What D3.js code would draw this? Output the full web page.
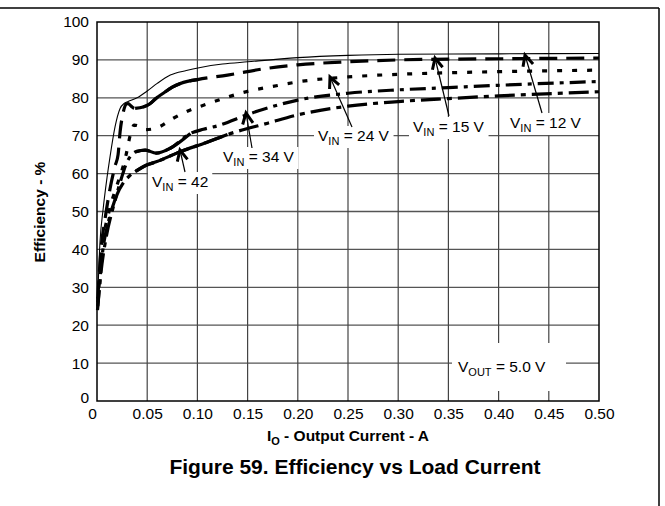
<!DOCTYPE html>
<html><head><meta charset="utf-8">
<script src="https://cdn.jsdelivr.net/npm/d3@7"></script>
<style>
html,body{margin:0;padding:0;background:#fff;}
svg{display:block;font-family:"Liberation Sans",Arial,sans-serif;}
</style></head>
<body>
<svg id="chart" width="665" height="506"></svg>
<script>
// ---- data ----
const xTickValues = [0,0.05,0.10,0.15,0.20,0.25,0.30,0.35,0.40,0.45,0.50];
const xTickLabels = ["0","0.05","0.10","0.15","0.20","0.25","0.30","0.35","0.40","0.45","0.50"];
const yTickValues = [0,10,20,30,40,50,60,70,80,90,100];
const seriesNames = ["12","15","24","34","42"];

const current12 = [0.0008,0.003,0.006,0.01,0.013,0.018,0.023,0.027,0.031,0.04,0.05,0.06,0.073,0.089,0.103,0.125,0.15,0.2,0.25,0.3,0.4,0.5];
const eff12     = [28,42,50.4,59,64.5,72.4,77.2,78.5,79,80,81.8,83.8,86,87.2,88,88.9,89.5,90.6,91.2,91.5,91.6,91.7];

const current15 = [0.0008,0.004,0.008,0.013,0.018,0.021,0.023,0.026,0.029,0.031,0.034,0.038,0.046,0.052,0.059,0.066,0.075,0.083,0.1,0.13,0.17,0.2,0.25,0.3,0.35,0.4,0.5];
const eff15     = [27,40,48,56,62,65,71,76,78.3,78.5,77.8,77.2,77.6,78.3,79.9,81.2,82.8,83.8,84.8,86,87.8,88.7,89.5,90,90.2,90.3,90.5];

const current24 = [0.0008,0.005,0.012,0.02,0.025,0.029,0.033,0.037,0.041,0.049,0.059,0.076,0.093,0.109,0.15,0.175,0.2,0.25,0.3,0.35,0.4,0.5];
const eff24     = [26,40,50,57,61,65,70,72.8,72.6,71.6,72,74.6,76.8,78.3,81.7,83,84.2,85.5,86.2,86.6,86.9,87.3];

const current34 = [0.0008,0.005,0.012,0.019,0.024,0.029,0.034,0.039,0.048,0.059,0.073,0.093,0.106,0.12,0.15,0.2,0.25,0.3,0.35,0.4,0.5];
const eff34     = [25,38,48,54,58.5,62.5,64.8,65.8,66.2,65.4,66.7,70.6,71.7,72.6,75.6,79.4,81.2,82.1,82.7,83.3,84.3];

const current42 = [0.0005,0.004,0.009,0.015,0.02,0.026,0.032,0.038,0.049,0.059,0.083,0.109,0.13,0.17,0.2,0.25,0.3,0.35,0.4,0.5];
const eff42     = [24,34,43,50,54.5,57.5,59.3,60.5,62.2,63.1,65.8,68.2,70.3,73.3,75.5,77.8,79,79.8,80.5,81.6];

// ---- layout ----
const svg = d3.select("#chart");
const L = 97, R = 599, T = 22, B = 401;
const x = d3.scaleLinear().domain([0,0.5]).range([L,R]);
const y = d3.scaleLinear().domain([0,100]).range([B,T]);
const FONT = "Liberation Sans, Arial, sans-serif";

// layers
const gridG = svg.append("g");
const boxG = svg.append("g");
const frameG = svg.append("g");
const curveG = svg.append("g");
const labG = svg.append("g");
const arrowG = svg.append("g");

// outer frame (top + right)
frameG.append("line").attr("x1",0).attr("x2",659).attr("y1",8).attr("y2",8).attr("stroke","#000").attr("stroke-width",1.5);
frameG.append("line").attr("x1",659).attr("x2",659).attr("y1",8).attr("y2",506).attr("stroke","#000").attr("stroke-width",1.5);

// grid
gridG.selectAll("line.h").data(yTickValues.slice(1,-1)).join("line")
  .attr("x1",L).attr("x2",R).attr("y1",d=>y(d)).attr("y2",d=>y(d))
  .attr("stroke","#555").attr("stroke-width",1.3);
gridG.selectAll("line.v").data(xTickValues.slice(1,-1)).join("line")
  .attr("x1",d=>x(d)).attr("x2",d=>x(d)).attr("y1",T).attr("y2",B)
  .attr("stroke","#444").attr("stroke-width",1.2);

function wbox(x0,y0,x1,y1){ boxG.append("rect").attr("x",x0).attr("y",y0).attr("width",x1-x0).attr("height",y1-y0).attr("fill","#fff"); }

// plot frame
frameG.append("rect").attr("x",L).attr("y",T).attr("width",R-L).attr("height",B-T)
  .attr("fill","none").attr("stroke","#000").attr("stroke-width",1.5);

// axes tick labels
const axX = d3.axisBottom(x).tickValues(xTickValues).tickFormat((d,i)=>xTickLabels[i]).tickSize(0).tickPadding(7);
const gx = svg.append("g").attr("transform",`translate(0,${B})`).call(axX);
gx.select(".domain").remove();
gx.selectAll("text").attr("font-size",15.5).attr("fill","#000").attr("font-family",FONT);
gx.selectAll("text").filter((d,i)=>i===0).attr("dx",-5);

const axY = d3.axisLeft(y).tickValues(yTickValues).tickFormat(d3.format("d")).tickSize(0).tickPadding(8);
const gy = svg.append("g").attr("transform",`translate(${L},0)`).call(axY);
gy.select(".domain").remove();
gy.selectAll("text").attr("font-size",15.5).attr("fill","#000").attr("font-family",FONT);
gy.selectAll("text").filter(d=>d===0).attr("dy","0.1em");

// axis titles
svg.append("text").attr("x",348).attr("y",441).attr("text-anchor","middle")
  .attr("font-size",15.5).attr("font-weight","bold")
  .call(t=>{ t.append("tspan").text("I"); t.append("tspan").attr("dy",4).attr("font-size",11).text("O"); t.append("tspan").attr("dy",-4).text(" - Output Current - A"); });
svg.append("text").attr("transform","translate(45,212) rotate(-90)").attr("text-anchor","middle")
  .attr("font-size",15.5).attr("font-weight","bold").text("Efficiency - %");
svg.append("text").attr("x",355).attr("y",474).attr("text-anchor","middle")
  .attr("font-size",21).attr("font-weight","bold").text("Figure 59. Efficiency vs Load Current");

// curves
const seriesData = {
  "12": current12.map((c,i)=>[c,eff12[i]]),
  "15": current15.map((c,i)=>[c,eff15[i]]),
  "24": current24.map((c,i)=>[c,eff24[i]]),
  "34": current34.map((c,i)=>[c,eff34[i]]),
  "42": current42.map((c,i)=>[c,eff42[i]])
};
const styles = {
  "12": {w:1.1, dash:null, solid:null},
  "15": {w:3.2, dash:"18,9", solid:[0.038,0.1]},
  "24": {w:3.2, dash:"5,10", solid:null},
  "34": {w:3.2, dash:"16,6,4,6", solid:[0.039,0.093]},
  "42": {w:3.2, dash:"20,6,5,6", solid:[0.038,0.13]}
};
const line = d3.line().x(d=>x(d[0])).y(d=>y(d[1])).curve(d3.curveMonotoneX);
seriesNames.forEach(n=>{
  const st = styles[n];
  curveG.append("path")
    .datum(seriesData[n]).attr("d",line).attr("fill","none")
    .attr("stroke","#000").attr("stroke-width",st.w)
    .attr("stroke-dasharray",st.dash);
  if (st.solid) {
    // densely plotted stretch of the original curve reads as a continuous stroke
    curveG.append("path")
      .datum(seriesData[n].filter(d=>d[0]>=st.solid[0] && d[0]<=st.solid[1]))
      .attr("d",line).attr("fill","none").attr("stroke","#000").attr("stroke-width",st.w);
  }
});

// labels (with white background boxes)
const labels = [
  {name:"42", text:" = 42",  tx:152, ty:187, tail:[185,172], tip:[180,150]},
  {name:"34", text:" = 34 V",tx:223, ty:162, tail:[252,148], tip:[246,113]},
  {name:"24", text:" = 24 V",tx:318, ty:141, tail:[352,127], tip:[330,77]},
  {name:"15", text:" = 15 V",tx:413, ty:132, tail:[449,116], tip:[435,58]},
  {name:"12", text:" = 12 V",tx:510, ty:128, tail:[542,113], tip:[525,55]}
];
function addLabel(g, main, sub, rest, tx, ty){
  const t = g.append("text").attr("x",tx).attr("y",ty).attr("font-size",15.5).attr("fill","#000").attr("font-family",FONT);
  t.append("tspan").text(main);
  t.append("tspan").attr("dy",4).attr("font-size",11).text(sub);
  t.append("tspan").attr("dy",-4).text(rest);
  return t;
}
labels.forEach(l=>{
  const t = addLabel(labG,"V","IN",l.text,l.tx,l.ty);
  const bb = t.node().getBBox();
  wbox(bb.x-4, bb.y-1, bb.x+bb.width+4, bb.y+bb.height+1);
});
addLabel(labG,"V","OUT"," = 5.0 V",458,372);
wbox(452,343,566,391);

// arrows
labels.forEach(l=>{
  const [x0,y0]=l.tail,[x1,y1]=l.tip;
  arrowG.append("line").attr("x1",x0).attr("y1",y0).attr("x2",x1).attr("y2",y1).attr("stroke","#000").attr("stroke-width",1.2);
  const ang = Math.atan2(y0-y1,x0-x1), a=0.45, len=12;
  const p1=[x1+len*Math.cos(ang+a), y1+len*Math.sin(ang+a)];
  const p2=[x1+len*Math.cos(ang-a), y1+len*Math.sin(ang-a)];
  arrowG.append("path").attr("d",`M${p1}L${x1},${y1}L${p2}`).attr("fill","none").attr("stroke","#000").attr("stroke-width",3).attr("stroke-linejoin","miter");
});
</script>
</body></html>
